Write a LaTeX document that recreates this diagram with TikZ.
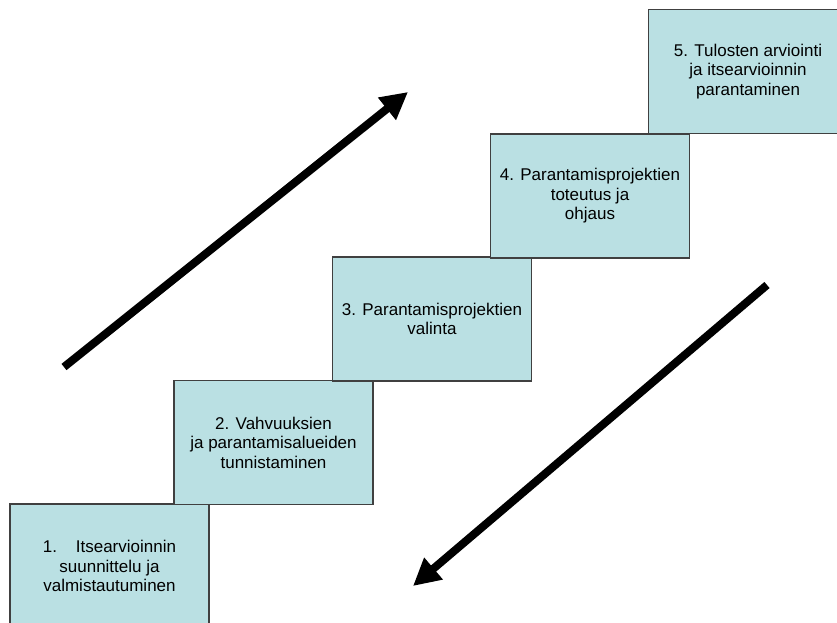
\documentclass[tikz,border=0pt]{standalone}
\usepackage{fontspec}
\setmainfont{Liberation Sans}
\usetikzlibrary{arrows.meta}
\definecolor{stepfill}{RGB}{186,224,227}
\definecolor{stepline}{RGB}{64,64,64}
\begin{document}
\begin{tikzpicture}[x=1pt,y=-1pt,
  stepbox/.style={draw=stepline, line width=1.3pt, fill=stepfill,
    minimum width=199pt, minimum height=124pt, inner sep=0pt,
    align=center, font=\fontsize{17}{19.5}\selectfont},
  bigarrow/.style={line width=8pt, -{Triangle[length=27pt,width=27pt]}}]
\useasboundingbox (0,0) rectangle (837,623);
\begin{scope}
\clip (0,0) rectangle (837,623);
% staircase of steps, bottom-left to top-right
\node[stepbox] (b1) at (109.5,566) {1.\hspace{1.1em}Itsearvioinnin\\suunnittelu ja\\valmistautuminen};
\node[stepbox] (b2) at (273.5,442.5) {2. Vahvuuksien\\ja parantamisalueiden\\tunnistaminen};
\node[stepbox] (b3) at (432,319) {3. Parantamisprojektien\\valinta};
\node[stepbox] (b4) at (590,196) {4. Parantamisprojektien\\toteutus ja\\ohjaus};
\node[stepbox] (b5) at (748,71.5) {5. Tulosten arviointi\\ja itsearvioinnin\\parantaminen};
\end{scope}
% direction arrows
\coordinate (upstart) at (64,367);
\coordinate (upend) at (408,92);
\coordinate (downstart) at (767,285);
\coordinate (downend) at (413,586);
\draw[bigarrow] (upstart) -- (upend);
\draw[bigarrow] (downstart) -- (downend);
\end{tikzpicture}
\end{document}
